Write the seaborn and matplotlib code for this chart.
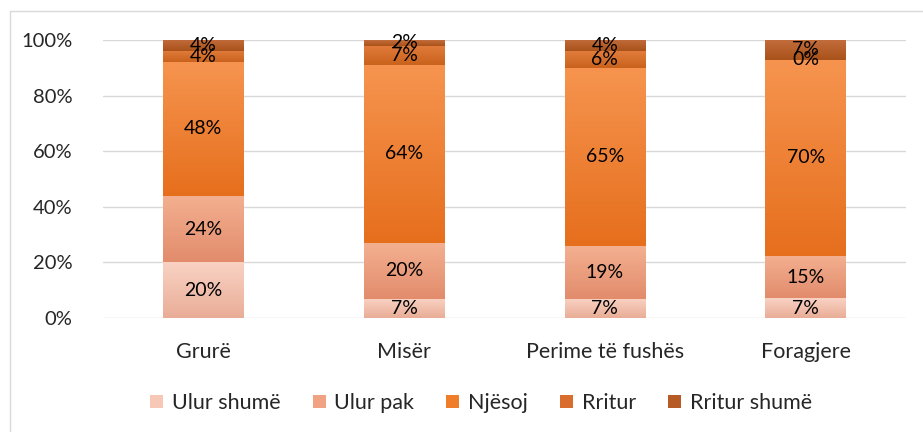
import numpy as np
import pandas as pd
import matplotlib
matplotlib.use("Agg")
import matplotlib.pyplot as plt
import matplotlib.colors as mcolors
from matplotlib.patches import Patch, Rectangle
import seaborn as sns

# data
categories = ["Grurë", "Misër", "Perime të fushës", "Foragjere"]
series = ["Ulur shumë", "Ulur pak", "Njësoj", "Rritur", "Rritur shumë"]
ulur_shume = [20, 7, 7, 7]
ulur_pak = [24, 20, 19, 15]
njesoj = [48, 64, 65, 70]
rritur = [4, 7, 6, 0]
rritur_shume = [4, 2, 4, 7]
values = [ulur_shume, ulur_pak, njesoj, rritur, rritur_shume]

# gradient colors (top, bottom) for each series + flat legend color
grad_cols = [("#f9d2c3", "#e9ad97"),
             ("#f3b090", "#e28c6c"),
             ("#f6944f", "#e66f1d"),
             ("#e27c3c", "#c9621c"),
             ("#c26c3c", "#a9521a")]
legend_cols = ["#f6c8b5", "#f0a282", "#f07d2a", "#d96d2e", "#b65a26"]

sns.set_style("white")
plt.rcParams["font.family"] = ["Lato", "DejaVu Sans"]

fig = plt.figure(figsize=(9.23, 4.32), dpi=100)
ax = fig.add_axes([103 / 923, 1 - 318 / 432, 803 / 923, 278 / 432])

vals = np.array(values, dtype=float)
totals = vals.sum(axis=0)
shares = vals / totals * 100
bottoms = np.vstack([np.zeros(len(categories)), np.cumsum(shares, axis=0)[:-1]])

for i, name in enumerate(series):
    df = pd.DataFrame({"cat": categories, "val": shares[i]})
    sns.barplot(data=df, x="cat", y="val", bottom=bottoms[i], width=0.4,
                color=legend_cols[i], linewidth=0, saturation=1, ax=ax)

# gradient fills clipped to the bar shapes
for k, bar in enumerate(ax.patches):
    i = k // len(categories)
    x0, y0 = bar.get_x(), bar.get_y()
    w, h = bar.get_width(), bar.get_height()
    if h <= 0:
        continue
    cmap = mcolors.LinearSegmentedColormap.from_list("g", [grad_cols[i][1], grad_cols[i][0]])
    grad = np.linspace(0, 1, 64).reshape(-1, 1)
    im = ax.imshow(grad, cmap=cmap, aspect="auto", origin="lower",
                   extent=(x0, x0 + w, y0, y0 + h), zorder=bar.get_zorder() + 0.1)
    im.set_clip_path(bar)

# segment labels
for i in range(len(series)):
    for j in range(len(categories)):
        ax.text(j, bottoms[i][j] + shares[i][j] / 2, f"{values[i][j]}%",
                ha="center", va="center", fontsize=14, color="black", zorder=5)

ax.set_xlim(-0.5, len(categories) - 0.5)
ax.set_ylim(0, 100)
ax.set_yticks(range(0, 101, 20))
ax.set_yticklabels([f"{t}%" for t in range(0, 101, 20)])
ax.yaxis.grid(True, color="#d9d9d9", linewidth=1)
ax.set_axisbelow(True)
ax.tick_params(axis="y", length=0, pad=22, labelsize=14.5)
ax.tick_params(axis="x", length=0, pad=17, labelsize=15.5)
ax.set_xlabel("")
ax.set_ylabel("")
for sp in ax.spines.values():
    sp.set_visible(False)

handles = [Patch(facecolor=c, edgecolor="none") for c in legend_cols]
fig.legend(handles, series, loc="center", bbox_to_anchor=(481 / 923, 1 - 403 / 432),
           ncol=5, frameon=False, fontsize=15.5, handlelength=0.6, handleheight=0.6,
           handletextpad=0.4, columnspacing=1.5)

# light outer frame
fig.patches.append(Rectangle((10 / 923, -0.1), 1.2, 1.1 - 11 / 432,
                             transform=fig.transFigure, fill=False,
                             edgecolor="#d9d9d9", linewidth=1))

fig.savefig("out.png", dpi=100)
